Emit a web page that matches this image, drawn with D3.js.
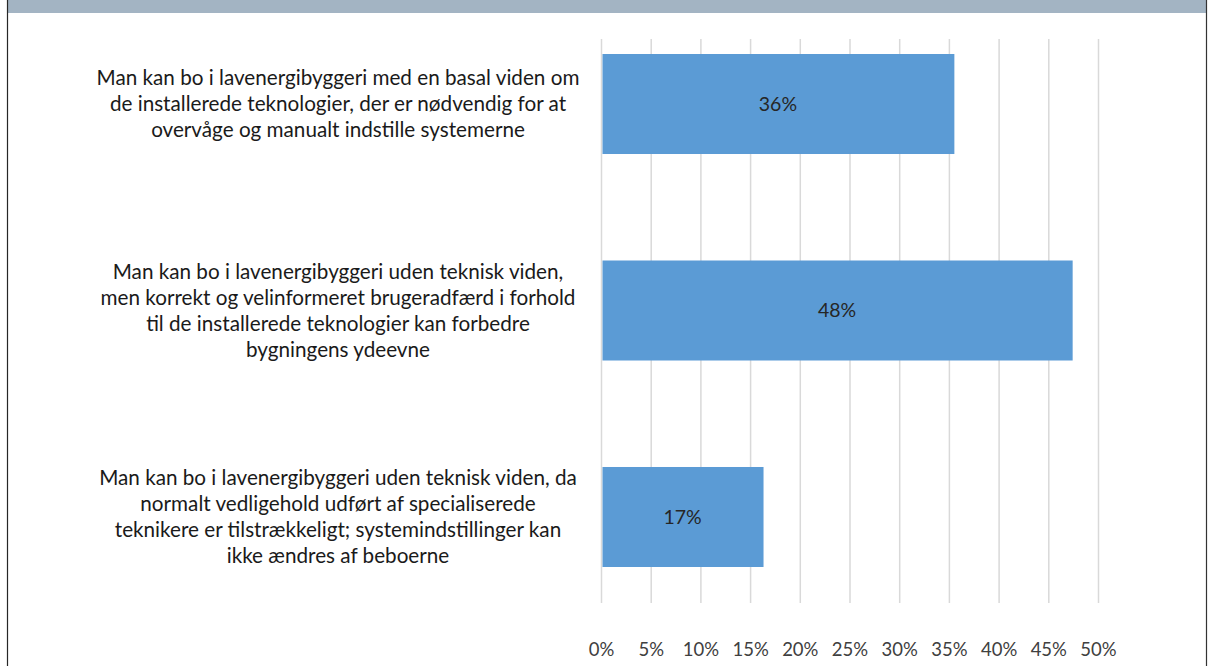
<!DOCTYPE html>
<html>
<head>
<meta charset="utf-8">
<script src="https://cdn.jsdelivr.net/npm/d3@7"></script>
<style>
  html, body { margin: 0; padding: 0; background: #ffffff; }
  svg { display: block; }
</style>
</head>
<body>
<svg id="chart" width="1211" height="666"></svg>
<script>
// ---- data ----
const categories = [
  "Man kan bo i lavenergibyggeri med en basal viden om|de installerede teknologier, der er nødvendig for at|overvåge og manualt indstille systemerne",
  "Man kan bo i lavenergibyggeri uden teknisk viden,|men korrekt og velinformeret brugeradfærd i forhold|til de installerede teknologier kan forbedre|bygningens ydeevne",
  "Man kan bo i lavenergibyggeri uden teknisk viden, da|normalt vedligehold udført af specialiserede|teknikere er tilstrækkeligt; systemindstillinger kan|ikke ændres af beboerne"
];
const values = [35.5, 47.4, 16.3];
const valueLabels = ["36%", "48%", "17%"];
const tickValues = [0, 5, 10, 15, 20, 25, 30, 35, 40, 45, 50];
const tickLabels = ["0%", "5%", "10%", "15%", "20%", "25%", "30%", "35%", "40%", "45%", "50%"];

const W = 1211, H = 666;
const svg = d3.select("#chart");
const FONT = "Lato, 'Open Sans', 'Liberation Sans', sans-serif";

// frame
svg.append("rect").attr("x", 7).attr("y", 0).attr("width", 1199).attr("height", 13).attr("fill", "#a3b4c3");
svg.append("line").attr("x1", 7.5).attr("x2", 7.5).attr("y1", 0).attr("y2", H).attr("stroke", "#262626").attr("stroke-width", 1.2);
svg.append("line").attr("x1", 1206.5).attr("x2", 1206.5).attr("y1", 0).attr("y2", H).attr("stroke", "#333").attr("stroke-width", 1.2);

// scales
const x = d3.scaleLinear().domain([0, 50]).range([601.5, 1098.5]);
const y = d3.scaleBand().domain(categories).range([0.75, 620.25]).paddingInner(0.5157).paddingOuter(0.2579);

// gridlines
svg.append("g").selectAll("line").data(tickValues).join("line")
  .attr("x1", d => x(d)).attr("x2", d => x(d))
  .attr("y1", 39).attr("y2", 603)
  .attr("stroke", "#d9d9d9").attr("stroke-width", 1.5);

// bars
svg.append("g").selectAll("rect").data(values).join("rect")
  .attr("x", x(0) + 1)
  .attr("y", (d, i) => y(categories[i]))
  .attr("width", d => x(d) - x(0) - 1)
  .attr("height", y.bandwidth())
  .attr("fill", "#5b9bd5");

// value labels
svg.append("g").selectAll("text").data(values).join("text")
  .attr("x", d => (x(0) + x(d)) / 2)
  .attr("y", (d, i) => y(categories[i]) + y.bandwidth() / 2)
  .attr("dy", "0.35em")
  .attr("text-anchor", "middle")
  .attr("font-family", FONT)
  .attr("font-size", 19.5)
  .attr("fill", "#262626")
  .text((d, i) => valueLabels[i]);

// tick labels
svg.append("g").selectAll("text").data(tickValues).join("text")
  .attr("x", d => x(d))
  .attr("y", 650)
  .attr("dy", "0.35em")
  .attr("text-anchor", "middle")
  .attr("font-family", FONT)
  .attr("font-size", 18.5)
  .attr("fill", "#404040")
  .text((d, i) => tickLabels[i]);

// category labels: fit font size so the first line matches original width (~483px)
const probe = svg.append("text").attr("font-family", FONT).attr("font-size", 100)
  .text("Man kan bo i lavenergibyggeri med en basal viden om");
const pw = probe.node().getComputedTextLength();
probe.remove();
const catSize = Math.min(21, 100 * 483 / pw);

const lineH = 26;
const cx = 338;
categories.forEach((c, i) => {
  const lines = c.split("|");
  const center = y(c) + y.bandwidth() / 2;
  const t = svg.append("text")
    .attr("text-anchor", "middle")
    .attr("font-family", FONT)
    .attr("font-size", catSize)
    .attr("fill", "#1a1a1a");
  lines.forEach((ln, k) => {
    t.append("tspan")
      .attr("x", cx)
      .attr("y", center + (k - (lines.length - 1) / 2) * lineH)
      .attr("dy", "0.35em")
      .text(ln);
  });
});
</script>
</body>
</html>
